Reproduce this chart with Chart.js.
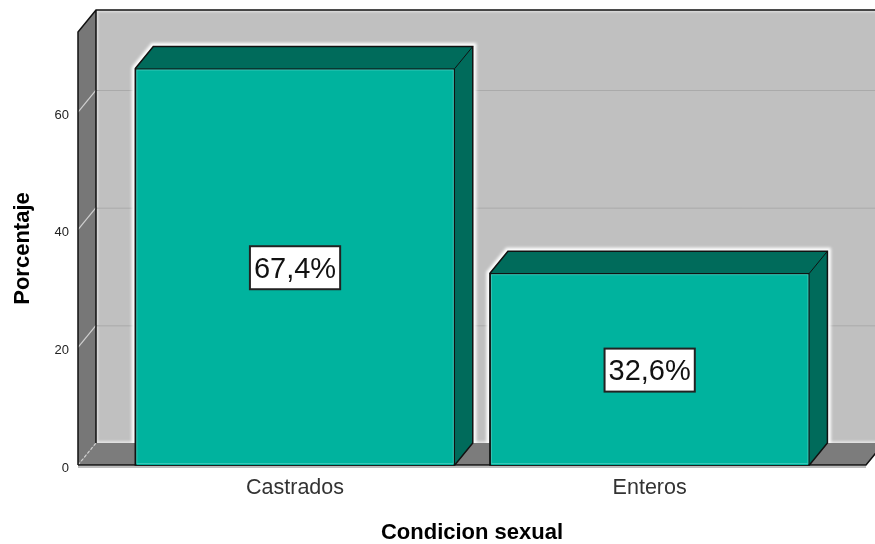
<!doctype html>
<html>
<head>
	<title>Condicion sexual</title>
	<script src="https://cdn.jsdelivr.net/npm/chart.js@4/dist/chart.umd.js"></script>
	<style>
		html, body { margin: 0; padding: 0; background: #fff; }
		canvas { display: block; }
	</style>
</head>
<body>
	<canvas id="canvas" width="875" height="544"></canvas>
	<script>
		var categorias = ['Castrados', 'Enteros'];
		var porcentajes = [67.4, 32.6];
		var marcasY = [0, 20, 40, 60];

		// oblique offset of the 3D box
		var DX = 18, DY = -22;
		var FONT = '"Liberation Sans", Arial, sans-serif';

		function poly(ctx, pts) {
			ctx.beginPath();
			pts.forEach(function (p, i) {
				if (i == 0) ctx.moveTo(p[0], p[1]); else ctx.lineTo(p[0], p[1]);
			});
			ctx.closePath();
		}

		// walls, floor and grid lines of the box
		var caja = {
			id: 'caja',
			beforeDatasetsDraw: function (chart) {
				var ctx = chart.ctx, a = chart.chartArea, y = chart.scales.y;
				var wl = a.left + DX, wr = a.right + DX, wt = a.top + DY, wb = a.bottom + DY;
				ctx.save();

				ctx.fillStyle = '#c0c0c0';
				ctx.fillRect(wl, wt, wr - wl, wb - wt);

				// soft light rim along the back wall
				ctx.save();
				ctx.beginPath();
				ctx.rect(wl, wt, wr - wl, wb - wt);
				ctx.clip();
				ctx.strokeStyle = 'rgba(255,255,255,0.55)';
				ctx.lineWidth = 4;
				ctx.filter = 'blur(1px)';
				ctx.strokeRect(wl, wt, wr - wl, wb - wt);
				ctx.restore();

				marcasY.forEach(function (v) {
					if (v == 0) return;
					var py = y.getPixelForValue(v);
					ctx.strokeStyle = '#aaaaaa';
					ctx.lineWidth = 1;
					ctx.beginPath();
					ctx.moveTo(wl, py + DY + 0.5);
					ctx.lineTo(wr, py + DY + 0.5);
					ctx.stroke();
				});

				// left wall
				poly(ctx, [[a.left, a.top], [wl, wt], [wl, wb], [a.left, a.bottom]]);
				ctx.fillStyle = '#777777';
				ctx.fill();

				// floor
				poly(ctx, [[a.left, a.bottom], [a.right, a.bottom], [wr, wb], [wl, wb]]);
				ctx.fillStyle = '#7c7c7c';
				ctx.fill();

				// grid lines crossing the left wall
				marcasY.forEach(function (v) {
					var py = y.getPixelForValue(v);
					ctx.strokeStyle = '#d0d0d0';
					ctx.lineWidth = 1.2;
					ctx.setLineDash(v == 0 ? [3, 2] : []);
					ctx.beginPath();
					ctx.moveTo(a.left, py);
					ctx.lineTo(wl, py + DY);
					ctx.stroke();
				});
				ctx.setLineDash([]);

				// light line under the front edge
				ctx.strokeStyle = '#bdbdbd';
				ctx.lineWidth = 2;
				ctx.beginPath();
				ctx.moveTo(a.left, a.bottom + 2);
				ctx.lineTo(a.right, a.bottom + 2);
				ctx.stroke();

				// outlines
				ctx.strokeStyle = '#111';
				ctx.lineWidth = 1.5;
				ctx.beginPath();
				ctx.moveTo(a.left, a.bottom);
				ctx.lineTo(a.left, a.top);
				ctx.lineTo(wl, wt);
				ctx.lineTo(wr, wt);
				ctx.moveTo(wl, wt);
				ctx.lineTo(wl, wb);
				ctx.moveTo(a.left, a.bottom);
				ctx.lineTo(a.right, a.bottom);
				ctx.lineTo(wr, wb);
				ctx.stroke();

				// white glow and top/side faces of each bar
				chart.getDatasetMeta(0).data.forEach(function (bar) {
					var l = bar.x - bar.width / 2, r = bar.x + bar.width / 2, t = bar.y, b = bar.base;
					var silueta = [[l, t], [l + DX, t + DY], [r + DX, t + DY], [r + DX, b + DY], [r, b], [l, b]];

					ctx.save();
					ctx.beginPath();
					ctx.rect(wl, wt, wr - wl, wb - wt);
					ctx.clip();
					poly(ctx, silueta);
					ctx.strokeStyle = '#ffffff';
					ctx.lineWidth = 7;
					ctx.filter = 'blur(1.5px)';
					ctx.stroke();
					ctx.restore();

					poly(ctx, silueta);
					ctx.fillStyle = '#006b5b';
					ctx.fill();
					ctx.strokeStyle = '#111';
					ctx.lineWidth = 1.5;
					ctx.stroke();

					ctx.lineWidth = 1;
					ctx.beginPath();
					ctx.moveTo(r, t);
					ctx.lineTo(r + DX, t + DY);
					ctx.stroke();
				});
				ctx.restore();
			},
			afterDatasetsDraw: function (chart) {
				var ctx = chart.ctx;
				ctx.save();
				chart.getDatasetMeta(0).data.forEach(function (bar, i) {
					var l = bar.x - bar.width / 2;

					// lighter inner edge of the front face
					ctx.strokeStyle = 'rgba(70,205,190,0.8)';
					ctx.lineWidth = 1;
					ctx.strokeRect(l + 1.5, bar.y + 1.5, bar.width - 3, bar.base - bar.y - 3);

					// value box
					var texto = porcentajes[i].toFixed(1).replace('.', ',') + '%';
					var cy = (bar.y + bar.base) / 2 + 1;
					ctx.font = '29px ' + FONT;
					var w = ctx.measureText(texto).width + 8;
					var h = 43;
					ctx.fillStyle = '#fff';
					ctx.strokeStyle = '#222';
					ctx.lineWidth = 2;
					ctx.fillRect(bar.x - w / 2, cy - h / 2, w, h);
					ctx.strokeRect(bar.x - w / 2, cy - h / 2, w, h);
					ctx.fillStyle = '#111';
					ctx.textAlign = 'center';
					ctx.textBaseline = 'middle';
					ctx.fillText(texto, bar.x, cy + 2);
				});
				ctx.restore();
			}
		};

		new Chart(document.getElementById('canvas').getContext('2d'), {
			type: 'bar',
			data: {
				datasets: [{
					data: categorias.map(function (c, i) { return { x: i, y: porcentajes[i] }; }),
					backgroundColor: '#00b39e',
					borderColor: '#111',
					borderWidth: 1.5,
					barThickness: 319.5
				}]
			},
			options: {
				responsive: false,
				animation: false,
				layout: { padding: { top: 32, right: 9, left: 0, bottom: 0 } },
				plugins: { legend: { display: false }, tooltip: { enabled: false } },
				scales: {
					x: {
						type: 'linear',
						offset: false,
						min: -0.612,
						max: 1.61,
						grid: { display: false, drawTicks: false, offset: false },
						border: { display: false },
						afterBuildTicks: function (s) {
							s.ticks = categorias.map(function (c, i) { return { value: i }; });
						},
						afterFit: function (s) { s.height = 79; },
						ticks: {
							autoSkip: false,
							maxRotation: 0,
							padding: 10,
							color: '#333',
							font: { family: FONT, size: 21.5 },
							callback: function (v) { return categorias[v]; }
						},
						title: {
							display: true,
							text: 'Condicion sexual',
							color: '#000',
							padding: { top: 0, bottom: -2 },
							font: { family: FONT, size: 22, weight: 'bold' }
						}
					},
					y: {
						min: 0,
						max: 73.6,
						grid: { display: false, drawTicks: false },
						border: { display: false },
						afterBuildTicks: function (s) {
							s.ticks = marcasY.map(function (v) { return { value: v }; });
						},
						afterFit: function (s) { s.width = 78; },
						ticks: {
							padding: 9,
							color: '#222',
							labelOffset: 3,
							font: { family: FONT, size: 13 }
						},
						title: {
							display: true,
							text: 'Porcentaje',
							color: '#000',
							padding: { top: 10, bottom: 0 },
							font: { family: FONT, size: 22, weight: 'bold' }
						}
					}
				}
			},
			plugins: [caja]
		});
	</script>
</body>
</html>
